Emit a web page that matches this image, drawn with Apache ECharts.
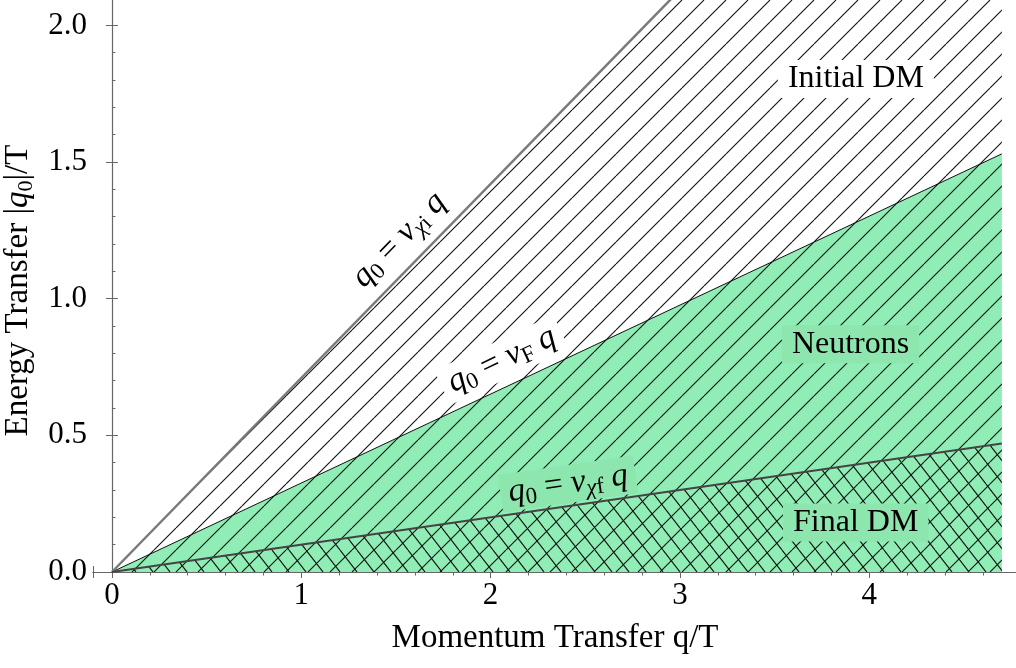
<!DOCTYPE html>
<html><head><meta charset="utf-8">
<script src="https://cdn.jsdelivr.net/npm/echarts@6/dist/echarts.min.js"></script>
<style>html,body{margin:0;padding:0;background:#fff}#c{width:1016px;height:668px}</style>
</head><body><div id="c"></div>
<script>
// ---- data ----
const qEnds   = [0, 4.7];        // momentum transfer q/T at line ends
const q0ChiI  = [0, 3.337];      // q0 = v_chi_i q  (slope ~0.71)
const q0F     = [0, 1.53];       // q0 = v_F q      (slope ~0.326)
const q0ChiF  = [0, 0.47];       // q0 = v_chi_f q  (slope ~0.10)
const regionNames = ['Initial DM', 'Neutrons', 'Final DM'];
const regionX = [3.929, 3.901, 3.928];
const regionY = [1.804, 0.8335, 0.181];
const lineLabelX = [1.516, 2.059, 2.409];
const lineLabelY = [1.215, 0.776, 0.322];
const lineLabelSub = ['χi', 'F', 'χf'];
const xTickLabels = [0, 1, 2, 3, 4];
const yTickLabels = [0.0, 0.5, 1.0, 1.5, 2.0];

const SERIF = 'Liberation Serif';
const GREEN = '#90edb5';
const GREEN_BOX = '#8de6ae';

function hatch(w, h, dir, color, lw) {
  const c = document.createElement('canvas');
  c.width = w; c.height = h;
  const ctx = c.getContext('2d');
  ctx.strokeStyle = color; ctx.lineWidth = lw;
  ctx.beginPath();
  for (let k = -1; k <= 1; k++) {
    if (dir > 0) { ctx.moveTo(k * w, h); ctx.lineTo(k * w + w, 0); }
    else { ctx.moveTo(k * w, 0); ctx.lineTo(k * w + w, h); }
  }
  ctx.stroke();
  return c;
}
const hatchUp = hatch(22, 22, 1, '#111', 1.1);
const hatchDown = hatch(17, 22, -1, '#111', 1.1);

const pts = (ys) => qEnds.map((x, i) => [x, ys[i]]);

const rich = {
  it:  { fontFamily: SERIF, fontStyle: 'italic', fontSize: 33, lineHeight: 38, color: '#000' },
  rm:  { fontFamily: SERIF, fontSize: 33, lineHeight: 38, color: '#000' },
  sub: { fontFamily: SERIF, fontSize: 23, lineHeight: 18, verticalAlign: 'bottom', color: '#000' },
  subit: { fontFamily: SERIF, fontStyle: 'italic', fontSize: 23, lineHeight: 18, verticalAlign: 'bottom', color: '#000' }
};

function subText(s) {
  if (s[0] === 'χ') return '{subit|χ}{sub|' + s.slice(1) + '}';
  return '{sub|' + s + '}';
}

const lineAngles = [45.7, 25.2, 8.2];
const lineBg = ['#ffffff', '#ffffff', GREEN_BOX];

const labelData = [];
regionNames.forEach((n, i) => {
  labelData.push({
    value: [regionX[i], regionY[i]],
    label: {
      show: true, position: 'inside', formatter: n,
      fontFamily: SERIF, fontSize: 32, color: '#000', textBorderWidth: 0,
      backgroundColor: i === 0 ? '#ffffff' : GREEN_BOX,
      padding: [3, 10]
    }
  });
});
lineLabelX.forEach((x, i) => {
  labelData.push({
    value: [x, lineLabelY[i]],
    label: {
      show: true, position: 'inside', rotate: lineAngles[i],
      formatter: '{it|q}{sub|0}{rm| = }{it|v}' + subText(lineLabelSub[i]) + '{it| q}',
      rich: rich, textBorderWidth: 0,
      backgroundColor: lineBg[i],
      padding: [0, 8]
    }
  });
});

const axisGray = '#666';
const xLab = (v) => Math.abs(v - Math.round(v)) < 1e-6 && xTickLabels.includes(Math.round(v)) ? String(Math.round(v)) : '';
const yLab = (v) => {
  const m = yTickLabels.find(t => Math.abs(t - v) < 1e-6);
  return m === undefined ? '' : m.toFixed(1);
};

const chart = echarts.init(document.getElementById('c'), null, { renderer: 'canvas' });
chart.setOption({
  animation: false,
  backgroundColor: '#fff',
  grid: { left: 93, right: -1, top: -1, bottom: 96, containLabel: false, outerBoundsMode: 'none' },
  xAxis: [{
    type: 'value', min: -0.1, max: 4.78, splitNumber: 5,
    axisLine: { show: true, lineStyle: { color: axisGray, width: 1.2 } },
    axisTick: { show: true, inside: true, length: 6, lineStyle: { color: axisGray } },
    minorTick: { show: true, splitNumber: 5, length: 3.5, lineStyle: { color: axisGray } },
    splitLine: { show: false },
    axisLabel: { formatter: xLab, fontFamily: SERIF, fontSize: 31, color: '#000', margin: 8 },
    name: 'Momentum Transfer q/T', nameLocation: 'middle', nameGap: 50,
    nameTextStyle: { fontFamily: SERIF, fontSize: 33, color: '#000' }
  }, {
    type: 'value', position: 'top', min: -0.1, max: 4.78, splitNumber: 5,
    axisLine: { show: true, lineStyle: { color: axisGray } },
    axisTick: { show: true, inside: true, length: 6, lineStyle: { color: axisGray } },
    minorTick: { show: true, splitNumber: 5, length: 3.5, lineStyle: { color: axisGray } },
    splitLine: { show: false }, axisLabel: { show: false }
  }],
  yAxis: [{
    type: 'value', min: 0, max: 2.0966, interval: 0.5,
    axisLine: { show: true, lineStyle: { color: axisGray, width: 1.2 } },
    axisTick: { show: true, inside: true, length: 6, lineStyle: { color: axisGray } },
    minorTick: { show: true, splitNumber: 5, length: 3.5, lineStyle: { color: axisGray } },
    splitLine: { show: false },
    axisLabel: { formatter: yLab, fontFamily: SERIF, fontSize: 31, color: '#000', margin: 6 },
    name: '{rm|Energy Transfer |}{it|q}{sub|0}{rm||/T}', nameLocation: 'middle', nameGap: 54, nameRotate: 90,
    nameTextStyle: {
      rich: {
        rm: { fontFamily: SERIF, fontSize: 33, lineHeight: 38, color: '#000' },
        it: { fontFamily: SERIF, fontStyle: 'italic', fontSize: 33, lineHeight: 38, color: '#000' },
        sub: { fontFamily: SERIF, fontSize: 22, lineHeight: 16, verticalAlign: 'bottom', color: '#000' }
      },
      padding: [0, 10, 0, 0]
    }
  }, {
    type: 'value', position: 'right', min: 0, max: 2.0966, interval: 0.5,
    axisLine: { show: true, lineStyle: { color: axisGray } },
    axisTick: { show: true, inside: true, length: 6, lineStyle: { color: axisGray } },
    splitLine: { show: false }, axisLabel: { show: false }
  }],
  series: [
    {
      name: 'Neutrons', type: 'line', data: pts(q0F), symbol: 'none', silent: true,
      lineStyle: { color: '#111', width: 1 },
      areaStyle: { color: GREEN, opacity: 1 }, z: 2
    },
    {
      name: 'Initial DM', type: 'line', data: pts(q0ChiI), symbol: 'none', silent: true,
      lineStyle: { color: '#7a7a7a', width: 2.5 },
      areaStyle: { color: { image: hatchUp, repeat: 'repeat' }, opacity: 1 }, z: 3
    },
    {
      name: 'Final DM', type: 'line', data: pts(q0ChiF), symbol: 'none', silent: true,
      lineStyle: { color: '#444', width: 2 },
      areaStyle: { color: { image: hatchDown, repeat: 'repeat' }, opacity: 1 }, z: 4
    },
    {
      name: 'labels', type: 'scatter', symbolSize: 0, silent: true, z: 10,
      itemStyle: { opacity: 1 },
      data: labelData
    }
  ]
});
</script>
</body></html>
